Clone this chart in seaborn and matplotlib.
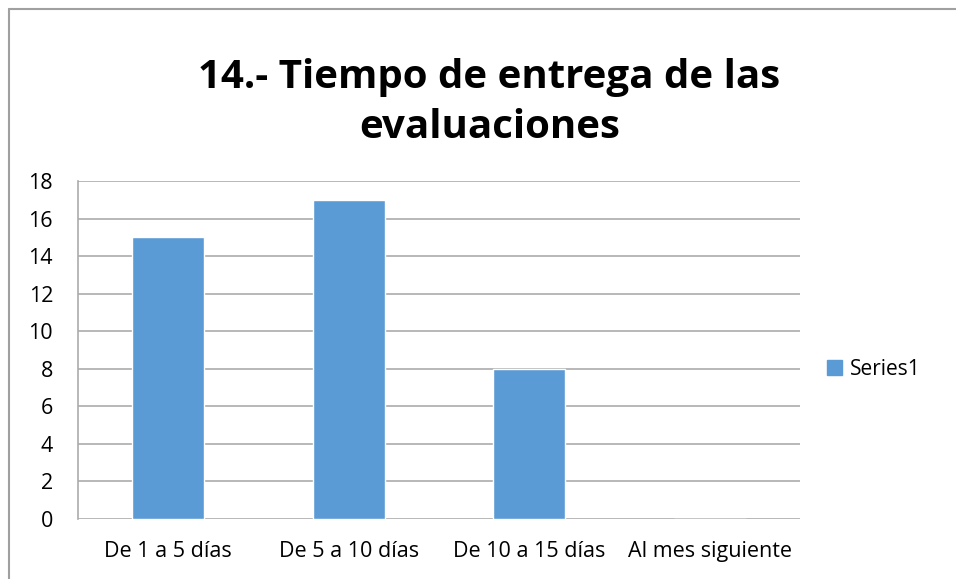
import matplotlib
matplotlib.use('Agg')
import matplotlib.pyplot as plt
from matplotlib.lines import Line2D
from matplotlib.patches import Patch
import pandas as pd
import seaborn as sns

categorias = ['De 1 a 5 días', 'De 5 a 10 días', 'De 10 a 15 días', 'Al mes siguiente']
valores = [15, 17, 8, 0]
serie = 'Series1'
titulo = '14.- Tiempo de entrega de las\nevaluaciones'

df = pd.DataFrame({'categoria': categorias, 'valor': valores})

sns.set_style('white')
plt.rcParams['font.family'] = ['Open Sans', 'DejaVu Sans']

fig = plt.figure(figsize=(9.56, 5.79), dpi=100)
ax = fig.add_axes([0.0816, 0.1036, 0.7552, 0.5838])

sns.barplot(data=df, x='categoria', y='valor', color='#5B9BD5', width=0.4,
            saturation=1, ax=ax, zorder=3)

ax.set_ylim(0, 18)
ax.set_yticks(range(0, 19, 2))
ax.set_xlim(-0.5, 3.5)
ax.grid(axis='y', color='#ABABAB', linewidth=1.2, zorder=0)
ax.set_xlabel('')
ax.set_ylabel('')
for s in ['top', 'right', 'bottom']:
    ax.spines[s].set_visible(False)
ax.spines['left'].set_color('#ABABAB')
ax.spines['left'].set_linewidth(1.2)
ax.tick_params(axis='both', length=0, labelsize=15.5, colors='black')
ax.tick_params(axis='x', pad=16)
ax.tick_params(axis='y', pad=18)

fig.text(0.512, 0.823, titulo, ha='center', va='center', fontsize=29,
         fontweight='bold', linespacing=1.38, color='black')

# legend
fig.legend(handles=[Patch(color='#5B9BD5', label=serie)], loc='center left',
           bbox_to_anchor=(0.845, 0.362), frameon=False, fontsize=15,
           handlelength=0.75, handleheight=0.75, handletextpad=0.35,
           labelcolor='black')

# chart frame
fig.add_artist(Line2D([0.0094, 0.0094], [0, 0.985], color='#A0A0A0', linewidth=1.5))
fig.add_artist(Line2D([0.0094, 1.0], [0.985, 0.985], color='#A0A0A0', linewidth=1.5))

fig.savefig('out.png', dpi=100)
